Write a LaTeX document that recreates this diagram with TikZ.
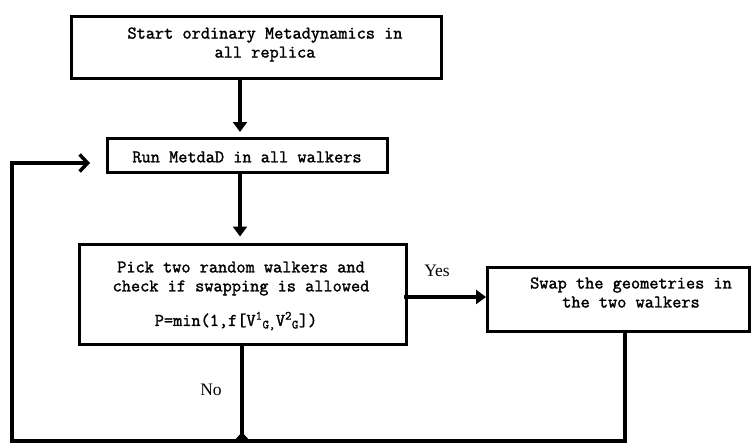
\documentclass[tikz,border=0pt]{standalone}
\usepackage{fontspec}
\setmainfont{Liberation Serif}
\setmonofont[AutoFakeBold=1.6]{Latin Modern Mono}
\usetikzlibrary{arrows.meta}
\begin{document}
\begin{tikzpicture}[x=1pt,y=-1pt,
  boxnode/.style={draw, line width=3pt, inner sep=0pt},
  txt/.style={font=\ttfamily\bfseries\fontsize{17.8}{19}\selectfont, align=center, inner sep=0pt},
  lbl/.style={font=\fontsize{17.5}{19}\selectfont, inner sep=0pt},
  conn/.style={line width=3.5pt},
  tip/.style={-{Triangle[width=14pt,length=10pt]}},
  barb/.style={-{Straight Barb[width=17pt,length=8pt]}}
]
\useasboundingbox (0,0) rectangle (752,444);
% boxes
\node[boxnode, minimum width=370pt, minimum height=62pt] (b1) at (256,47.5) {};
\node[boxnode, minimum width=280pt, minimum height=34pt] (b2) at (247.5,155.5) {};
\node[boxnode, minimum width=327pt, minimum height=100pt] (b3) at (243,294) {};
\node[boxnode, minimum width=262pt, minimum height=64pt] (b4) at (618.5,299.5) {};
% texts
\node[txt] (t1) at (265,44.5) {Start ordinary Metadynamics in\\all replica};
\node[txt] (t2) at (247,157) {Run MetdaD in all walkers};
\node[txt] (t3) at (241,278.5) {Pick two random walkers and\\check if swapping is allowed};
\node[txt] (t3p) at (236,321) {P=min(1,f[V\textsuperscript{1}\textsubscript{G,}V\textsuperscript{2}\textsubscript{G}])};
\node[txt] (t4) at (631,292.5) {Swap the geometries in\\the two walkers};
\node[lbl] (yes) at (437,271) {Yes};
\node[lbl] (no) at (211,390) {No};
% coordinates
\coordinate (jn) at (242,441);
\coordinate (bl) at (12,441);
\coordinate (lt) at (12,163);
\coordinate (ae) at (90,163);
% connectors
\draw[conn,tip] ([xshift=-16pt]b1.south) -- ([xshift=-7.5pt,yshift=5pt]b2.north);
\draw[conn,tip] ([xshift=-7.5pt]b2.south) -- ([xshift=-3pt,yshift=6pt]b3.north);
\draw[conn,tip] ([xshift=-4pt,yshift=-3pt]b3.east) -- ([yshift=-3pt]b3.east -| b4.west);
\draw[conn] ([xshift=-1pt]b3.south) -- (jn);
\draw[conn,barb] ([xshift=6.5pt]b4.south) |- (bl) -- (lt) -- (ae);
\fill ([xshift=-8pt]jn) -- ([yshift=9pt]jn) -- ([xshift=8pt]jn) -- cycle;
\end{tikzpicture}
\end{document}
